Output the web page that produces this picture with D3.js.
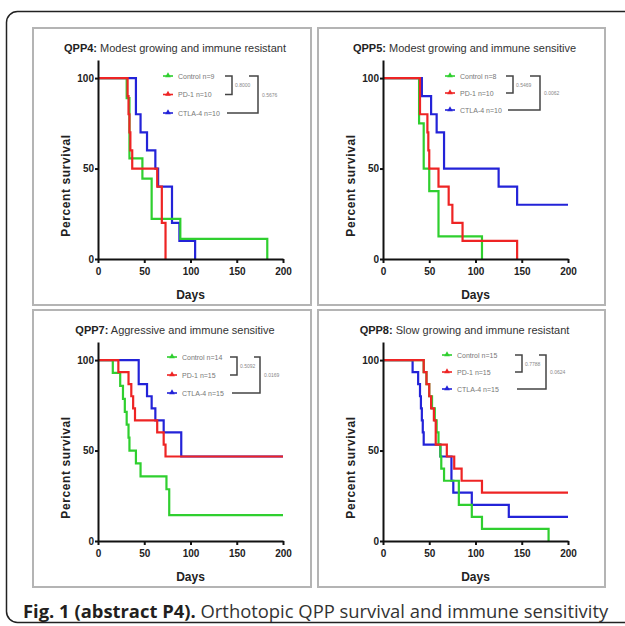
<!DOCTYPE html>
<html lang="en">
<head>
<meta charset="utf-8">
<title>QPP survival</title>
<script src="https://d3js.org/d3.v7.min.js"></script>
<style>
  body { margin: 0; background: #fff; }
  svg text { font-family: "Liberation Sans", Arial, sans-serif; }
  .tick text { font-weight: bold; font-size: 10px; fill: #222; }
  .axis path, .axis line { stroke: #111; stroke-width: 2; }
  .caption { font-family: "Open Sans", sans-serif !important; font-size: 18.4px; }
</style>
</head>
<body>
<div id="viz"></div>
<script>
// survival curves: [day, percent survival]
var dayTicks = [0, 50, 100, 150, 200];
var survTicks = [0, 50, 100];
var groups = ["Control", "PD-1", "CTLA-4"];

var qpp4Control = [[0,100],[31,88.9],[34,55.6],[48,44.4],[58,22.2],[89,11.1],[183,0]];
var qpp4Pd1 = [[0,100],[32,90],[33,80],[34,70],[35,60],[37,50],[64,40],[69,20],[73,0]];
var qpp4Ctla4 = [[0,100],[41,80],[46,70],[53,60],[62,50],[65,40],[80,20],[88,10],[105,0]];
var qpp4N = [9, 10, 10];
var qpp4P = ["0.8000", "0.5676"];

var qpp5Control = [[0,100],[39,75],[44,50],[50,37.5],[60,12.5],[107,0]];
var qpp5Pd1 = [[0,100],[40,80],[48,70],[49,60],[50,50],[60,40],[71,30],[75,20],[86,10],[145,0]];
var qpp5Ctla4 = [[0,100],[42,90],[52,80],[58,70],[66,50],[125,40],[145,30],[200,30]];
var qpp5N = [8, 10, 10];
var qpp5P = ["0.5469", "0.0062"];

var qpp7Control = [[0,100],[16,92.9],[24,85.7],[27,78.6],[29,71.4],[31,64.3],[33,57.1],[34,50],[41,42.9],[46,35.7],[74,28.6],[77,14.3],[200,14.3]];
var qpp7Pd1 = [[0,100],[22,93.3],[33,86.7],[36,80],[38,73.3],[40,66.7],[64,60],[71,53.3],[73,46.7],[200,46.7]];
var qpp7Ctla4 = [[0,100],[44,86.7],[53,80],[58,73.3],[62,66.7],[71,60],[90,46.7],[200,46.7]];
var qpp7N = [14, 15, 15];
var qpp7P = ["0.5092", "0.0169"];

var qpp8Control = [[0,100],[44,93.3],[47,86.7],[50,80],[53,73.3],[56,66.7],[58,60],[60,53.3],[62,46.7],[63,40],[66,33.3],[82,20],[96,13.3],[107,6.7],[179,0]];
var qpp8Pd1 = [[0,100],[44,93.3],[47,86.7],[50,80],[52,73.3],[55,66.7],[57,53.3],[69,46.7],[77,40],[85,33.3],[107,26.7],[200,26.7]];
var qpp8Ctla4 = [[0,100],[32,93.3],[38,86.7],[40,80],[41,73.3],[42,66.7],[43,60],[44,53.3],[62,46.7],[74,33.3],[76,26.7],[96,20],[136,13.3],[200,13.3]];
var qpp8N = [15, 15, 15];
var qpp8P = ["0.7788", "0.0624"];

var colors = {"Control": "#2fcf2f", "PD-1": "#ee2424", "CTLA-4": "#2323d8"};

var panels = [
  {code: "QPP4:", title: " Modest growing and immune resistant", x: 33, y: 28, w: 278,
   series: [qpp4Control, qpp4Pd1, qpp4Ctla4], n: qpp4N, p: qpp4P,
   leg: {x: 135, y: 48, gap: 18.5, inner: 199, outer: 225}},
  {code: "QPP5:", title: " Modest growing and immune sensitive", x: 318, y: 28, w: 287,
   series: [qpp5Control, qpp5Pd1, qpp5Ctla4], n: qpp5N, p: qpp5P,
   leg: {x: 132, y: 48, gap: 17, inner: 195, outer: 222}},
  {code: "QPP7:", title: " Aggressive and immune sensitive", x: 33, y: 310, w: 278,
   series: [qpp7Control, qpp7Pd1, qpp7Ctla4], n: qpp7N, p: qpp7P,
   leg: {x: 139, y: 47, gap: 18, inner: 204, outer: 227}},
  {code: "QPP8:", title: " Slow growing and immune resistant", x: 318, y: 310, w: 287,
   series: [qpp8Control, qpp8Pd1, qpp8Ctla4], n: qpp8N, p: qpp8P,
   leg: {x: 129, y: 45, gap: 17, inner: 204, outer: 228}}
];

var svg = d3.select("#viz").append("svg")
  .attr("width", 625)
  .attr("height", 626);

// outer frame of the figure
svg.append("rect")
  .attr("x", 6.5).attr("y", 11.5)
  .attr("width", 640).attr("height", 611)
  .attr("rx", 11)
  .attr("fill", "none")
  .attr("stroke", "#222")
  .attr("stroke-width", 1.5);

var boxH = 277, plotLeft = 65, plotW = 185, plotTop = 32, plotH = 199;

var x = d3.scaleLinear().domain([0, 200]).range([0, plotW]);
var y = d3.scaleLinear().domain([0, 110]).range([plotH, 0]);

var line = d3.line()
  .x(function(d) { return x(d[0]); })
  .y(function(d) { return y(d[1]); })
  .curve(d3.curveStepAfter);

panels.forEach(function(p) {
  var g = svg.append("g").attr("transform", "translate(" + p.x + "," + p.y + ")");

  g.append("rect")
    .attr("width", p.w).attr("height", boxH)
    .attr("fill", "#fff")
    .attr("stroke", "#b4b4b4")
    .attr("stroke-width", 2);

  var t = g.append("text")
    .attr("x", p.w / 2 + 3).attr("y", 24)
    .attr("text-anchor", "middle")
    .attr("font-size", 11)
    .attr("fill", "#333");
  t.append("tspan").attr("font-weight", "bold").attr("fill", "#222").text(p.code);
  t.append("tspan").text(p.title);

  var plot = g.append("g").attr("transform", "translate(" + plotLeft + "," + plotTop + ")");

  // draw blue, green then red so red sits on top like the original
  [2, 0, 1].forEach(function(i) {
    plot.append("path")
      .datum(p.series[i])
      .attr("d", line)
      .attr("fill", "none")
      .attr("stroke", colors[groups[i]])
      .attr("stroke-width", 2.2);
  });

  plot.append("g")
    .attr("class", "axis")
    .attr("transform", "translate(0," + plotH + ")")
    .call(d3.axisBottom(x).tickValues(dayTicks).tickSize(4).tickSizeOuter(0).tickPadding(5));

  plot.append("g")
    .attr("class", "axis")
    .call(d3.axisLeft(y).tickValues(survTicks).tickSize(3).tickSizeOuter(0).tickPadding(1));

  plot.selectAll(".axis .domain").attr("stroke-width", 2.2);

  g.append("text")
    .attr("x", plotLeft + plotW / 2).attr("y", plotTop + plotH + 40)
    .attr("text-anchor", "middle")
    .attr("font-size", 12).attr("font-weight", "bold").attr("fill", "#222")
    .text("Days");

  g.append("text")
    .attr("transform", "translate(" + (plotLeft - 28) + "," + (plotTop + plotH / 2 + 26) + ") rotate(-90)")
    .attr("text-anchor", "middle")
    .attr("font-size", 12).attr("font-weight", "bold").attr("fill", "#222")
    .attr("letter-spacing", 0.6)
    .text("Percent survival");

  // legend with comparison brackets
  var L = p.leg;
  var lg = g.append("g");
  groups.forEach(function(name, i) {
    var yy = L.y + i * L.gap;
    lg.append("line")
      .attr("x1", L.x - 5).attr("x2", L.x + 5)
      .attr("y1", yy).attr("y2", yy)
      .attr("stroke", colors[name]).attr("stroke-width", 1.6);
    lg.append("path")
      .attr("d", d3.symbol(d3.symbolTriangle, 14))
      .attr("transform", "translate(" + L.x + "," + (yy - 0.5) + ")")
      .attr("fill", colors[name]);
    lg.append("text")
      .attr("x", L.x + 10).attr("y", yy + 2.5)
      .attr("font-size", 7).attr("fill", "#777")
      .text(name + " n=" + p.n[i]);
  });
  var y0 = L.y, y1 = L.y + L.gap, y2 = L.y + 2 * L.gap;
  lg.append("path")
    .attr("d", "M" + (L.inner - 7) + "," + y0 + "H" + L.inner + "V" + y1 + "H" + (L.inner - 7))
    .attr("fill", "none").attr("stroke", "#444").attr("stroke-width", 1.5);
  lg.append("path")
    .attr("d", "M" + (L.inner + 17) + "," + y0 + "H" + L.outer + "V" + y2 + "H" + (L.inner - 5))
    .attr("fill", "none").attr("stroke", "#444").attr("stroke-width", 1.5);
  lg.append("text")
    .attr("x", L.inner + 3).attr("y", (y0 + y1) / 2 + 2)
    .attr("font-size", 5).attr("fill", "#888")
    .text(p.p[0]);
  lg.append("text")
    .attr("x", L.outer + 4).attr("y", (y0 + y2) / 2 + 2)
    .attr("font-size", 5).attr("fill", "#888")
    .text(p.p[1]);
});

var cap = svg.append("text")
  .attr("class", "caption")
  .attr("x", 23).attr("y", 618);
cap.append("tspan").attr("font-weight", "bold").attr("fill", "#231f20").text("Fig. 1 (abstract P4).");
cap.append("tspan").attr("fill", "#333").text(" Orthotopic QPP survival and immune sensitivity");
</script>
</body>
</html>
